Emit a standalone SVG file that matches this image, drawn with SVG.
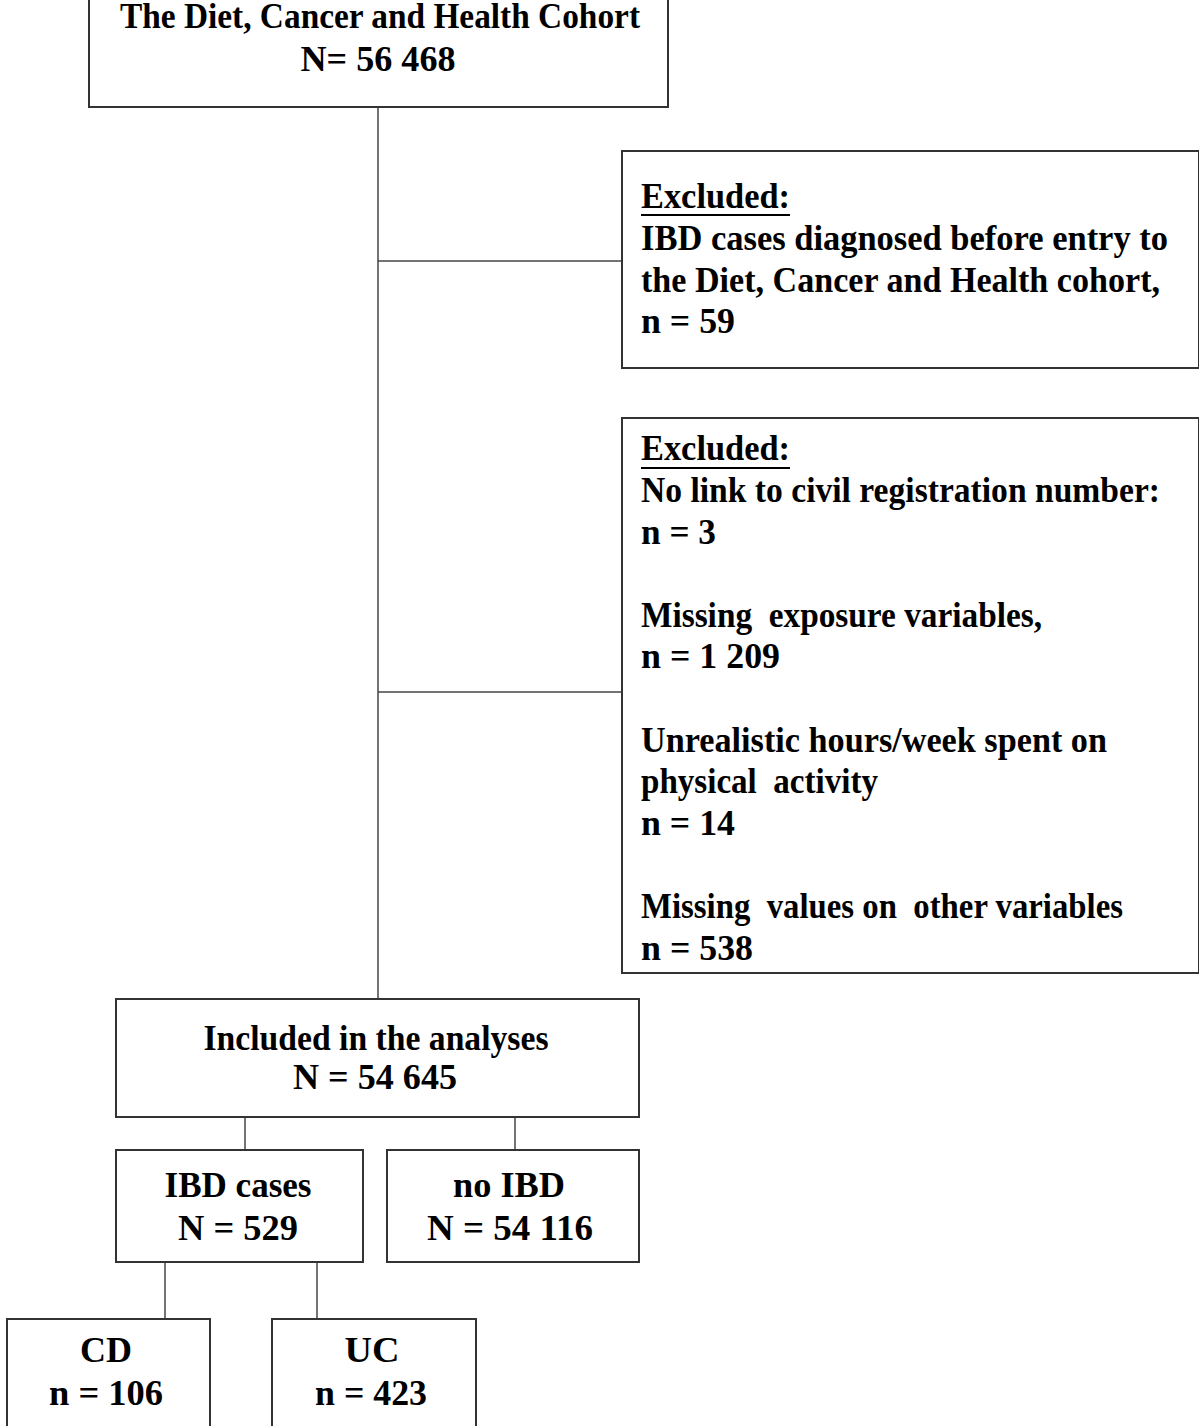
<svg xmlns="http://www.w3.org/2000/svg" width="1199" height="1426" viewBox="0 0 1199 1426">
<style>
.box{fill:#fff;stroke:#333;stroke-width:2}
.con{fill:none;stroke:#444;stroke-width:1.5}
text{font-family:"Liberation Serif","Times New Roman",serif;font-weight:bold;font-size:36px;fill:#000}
.c{text-anchor:middle}
.ul{stroke:#000;stroke-width:2}
</style>
<rect width="1199" height="1426" fill="#fff"/>
<g id="connectors">
<line class="con" x1="378" y1="107" x2="378" y2="999"/>
<line class="con" x1="378" y1="261" x2="622" y2="261"/>
<line class="con" x1="378" y1="692" x2="622" y2="692"/>
<line class="con" x1="245" y1="1117" x2="245" y2="1150"/>
<line class="con" x1="515" y1="1117" x2="515" y2="1150"/>
<line class="con" x1="165" y1="1262" x2="165" y2="1319"/>
<line class="con" x1="317" y1="1262" x2="317" y2="1319"/>
</g>
<g id="cohort">
<rect class="box" x="89" y="-40" width="579" height="147"/>
<text class="c" x="380" y="28" textLength="520" lengthAdjust="spacingAndGlyphs">The Diet, Cancer and Health Cohort</text>
<text class="c" x="378" y="71" textLength="155" lengthAdjust="spacingAndGlyphs">N= 56 468</text>
</g>
<g id="excluded1">
<rect class="box" x="622" y="151" width="577" height="217"/>
<text x="641" y="208" textLength="149" lengthAdjust="spacingAndGlyphs">Excluded:</text>
<line class="ul" x1="641" y1="215" x2="790" y2="215"/>
<text x="641" y="250" textLength="527" lengthAdjust="spacingAndGlyphs">IBD cases diagnosed before entry to</text>
<text x="641" y="292" textLength="519" lengthAdjust="spacingAndGlyphs">the Diet, Cancer and Health cohort,</text>
<text x="641" y="333" textLength="94" lengthAdjust="spacingAndGlyphs">n = 59</text>
</g>
<g id="excluded2">
<rect class="box" x="622" y="418" width="577" height="555"/>
<text x="641" y="460" textLength="149" lengthAdjust="spacingAndGlyphs">Excluded:</text>
<line class="ul" x1="641" y1="468" x2="790" y2="468"/>
<text x="641" y="502" textLength="519" lengthAdjust="spacingAndGlyphs">No link to civil registration number:</text>
<text x="641" y="544" textLength="75" lengthAdjust="spacingAndGlyphs">n = 3</text>
<text x="641" y="627" textLength="401" lengthAdjust="spacingAndGlyphs" xml:space="preserve">Missing  exposure variables,</text>
<text x="641" y="668" textLength="139" lengthAdjust="spacingAndGlyphs">n = 1 209</text>
<text x="641" y="752" textLength="466" lengthAdjust="spacingAndGlyphs">Unrealistic hours/week spent on</text>
<text x="641" y="793" textLength="237" lengthAdjust="spacingAndGlyphs" xml:space="preserve">physical  activity</text>
<text x="641" y="835" textLength="94" lengthAdjust="spacingAndGlyphs">n = 14</text>
<text x="641" y="918" textLength="482" lengthAdjust="spacingAndGlyphs" xml:space="preserve">Missing  values on  other variables</text>
<text x="641" y="960" textLength="112" lengthAdjust="spacingAndGlyphs">n = 538</text>
</g>
<g id="included">
<rect class="box" x="116" y="999" width="523" height="118"/>
<text class="c" x="376" y="1050" textLength="345" lengthAdjust="spacingAndGlyphs">Included in the analyses</text>
<text class="c" x="375" y="1089" textLength="164" lengthAdjust="spacingAndGlyphs">N = 54 645</text>
</g>
<g id="ibd">
<rect class="box" x="116" y="1150" width="247" height="112"/>
<text class="c" x="238" y="1197" textLength="147" lengthAdjust="spacingAndGlyphs">IBD cases</text>
<text class="c" x="238" y="1240" textLength="120" lengthAdjust="spacingAndGlyphs">N = 529</text>
</g>
<g id="noibd">
<rect class="box" x="387" y="1150" width="252" height="112"/>
<text class="c" x="509" y="1197" textLength="112" lengthAdjust="spacingAndGlyphs">no IBD</text>
<text class="c" x="510" y="1240" textLength="166" lengthAdjust="spacingAndGlyphs">N = 54 116</text>
</g>
<g id="cd">
<rect class="box" x="7" y="1319" width="203" height="140"/>
<text class="c" x="106" y="1362" textLength="52" lengthAdjust="spacingAndGlyphs">CD</text>
<text class="c" x="106" y="1405" textLength="114" lengthAdjust="spacingAndGlyphs">n = 106</text>
</g>
<g id="uc">
<rect class="box" x="272" y="1319" width="204" height="140"/>
<text class="c" x="372" y="1362" textLength="55" lengthAdjust="spacingAndGlyphs">UC</text>
<text class="c" x="371" y="1405" textLength="112" lengthAdjust="spacingAndGlyphs">n = 423</text>
</g>
</svg>
